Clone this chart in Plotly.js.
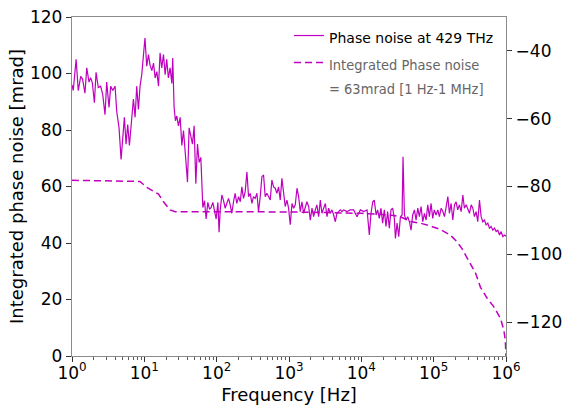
<!DOCTYPE html>
<html>
<head>
<meta charset="utf-8">
<script src="https://cdn.plot.ly/plotly-3.0.1.min.js"></script>
<style>html,body{margin:0;padding:0;background:#fff;}#chart{width:563px;height:405px;}</style>
</head>
<body>
<div id="chart"></div>
<script>
// Phase noise at 429 THz (right axis, dBc/Hz)
var pnFreq = [1,1.04,1.14,1.22,1.32,1.40,1.51,1.60,1.72,1.81,1.91,2.04,2.15,2.31,2.49,2.66,2.86,3.02,3.25,3.43,3.66,3.94,4.15,4.47,4.77,5.03,5.30,5.59,5.89,6.22,6.56,7.06,7.45,7.85,8.28,8.73,9.21,9.71,10.2,10.8,11.4,12.0,12.7,13.4,14.1,14.9,15.7,16.5,17.4,18.4,19.4,20.4,21.5,22.7,24.0,24.7,25.8,26.9,28.1,29.6,31.3,33.0,34.8,36.6,39.5,41.6,43.9,46.3,48.8,51.5,54.3,57.3,60.4,64.4,67.9,71.5,75.5,79.6,83.9,88.5,93.3,98.4,104,108,112,118,124,131,138,146,154,162,171,180,190,201,212,223,235,248,262,276,291,307,323,341,360,379,400,422,445,469,495,522,550,580,612,645,680,717,757,798,841,887,936,987,1040,1100,1160,1220,1290,1360,1430,1510,1590,1680,1770,1870,1970,2080,2190,2310,2430,2570,2710,2850,3010,3180,3350,3530,3720,3930,4140,4370,4600,4860,5120,5400,5690,6330,7040,7830,8710,9690,10800,12000,12900,13600,14400,15100,16000,16800,17700,18700,19700,20800,21900,23100,24400,25700,27100,28600,29600,31200,32900,34700,36600,37700,39400,41500,43800,46200,48700,51300,54200,57100,60300,63500,67000,70600,74500,78600,82800,87300,92100,97100,102000,108000,114000,120000,127000,134000,141000,149000,157000,165000,174000,184000,194000,204000,215000,227000,240000,253000,266000,281000,296000,313000,330000,348000,366000,386000,407000,430000,453000,478000,504000,531000,560000,591000,623000,657000,693000,731000,771000,813000,857000,904000,953000,1000000];
var pnValue = [-50,-51.7,-42.5,-51.7,-47.5,-48.3,-52.5,-45,-49.2,-47.9,-49.4,-55.3,-46.3,-50.8,-50.4,-52.9,-58.8,-49.2,-56.7,-50.4,-51.7,-50.4,-57.8,-62.7,-72,-65.5,-59.6,-67.5,-61.7,-67.9,-62.5,-54.2,-59.6,-50.4,-57.3,-50.4,-47,-41.1,-36.2,-44.5,-41.1,-44.2,-45.8,-43.6,-48,-46.1,-50.4,-40.6,-45,-41.1,-47,-42.5,-48,-45,-49.6,-42.1,-56.7,-60.6,-59.2,-62.1,-59.6,-67.9,-63.5,-69.4,-78.7,-62.7,-65.5,-67.5,-62.1,-79.2,-67.5,-72.9,-71.4,-86.2,-84.2,-89.6,-84.7,-86.7,-86.2,-84.7,-87.1,-89.6,-84.7,-93.5,-86.9,-82.5,-84,-86.4,-85,-83.5,-85.4,-87.9,-84.5,-82,-85,-83,-84.5,-80.1,-83.5,-81.5,-75.7,-83,-82,-85,-83,-83.5,-82,-87.4,-83,-77.1,-76.6,-83,-82,-83,-84,-78.1,-80.1,-80.5,-82,-80.1,-84,-77.6,-82.5,-85.9,-84,-86.4,-91.3,-85,-86.4,-85.4,-80.5,-83,-87.4,-84.5,-87.9,-85.9,-84.5,-85.9,-89.9,-86.4,-88.9,-86.9,-85.4,-88.9,-84,-87.9,-86.4,-85,-88.9,-86.4,-87.9,-86.9,-88.4,-90.4,-87.9,-87.4,-86.9,-87.4,-86.9,-87.4,-86.9,-86.9,-88.9,-86.9,-87.4,-86.9,-94.3,-87.9,-84.5,-84,-88.4,-86.9,-89.4,-86.4,-90.8,-86.9,-91.8,-87.4,-92.3,-86.9,-86.4,-89.4,-95.3,-90.8,-94.8,-88.9,-88.4,-71.2,-88.4,-89.9,-88.9,-90.4,-92.9,-88.4,-86.9,-89.9,-86.4,-88.9,-85.9,-90.4,-87.9,-89.9,-85.4,-88.9,-85,-89.4,-86.9,-88.4,-86.9,-88.9,-86.4,-87.4,-88.9,-85.9,-83,-87.9,-85,-89.9,-85.4,-84.5,-86.9,-85.4,-87.4,-82.5,-86.4,-85.4,-86.9,-87.9,-85.4,-86.4,-88.9,-87.4,-90.4,-84,-88.9,-90.4,-89.9,-91.3,-90.8,-92.3,-91.8,-92.9,-92.3,-93.3,-92.9,-94.3,-93.3,-94.8,-94.3,-94.7];

// Integrated phase noise (left axis, mrad)
var ipnFreq = [1,8.7,10.8,13.3,15.7,18.4,22.7,26.7,100,1000,3160,10000,25100,34700,47900,66100,90200,123000,170000,209000,245000,309000,380000,444000,550000,676000,839000,933000,977000,1000000];
var ipnValue = [62.2,61.8,59.7,58.2,57.3,54.6,51.7,51.1,51.1,51.0,50.8,50.5,49.9,49.3,47.6,47.0,46.0,44.8,42.8,40.5,38.1,33.4,29.3,24.3,20.4,17.5,13.3,9.2,5.7,0];

var xTickVals = [1,10,100,1000,10000,100000,1000000];
var xTickText = ['10<sup>0</sup>','10<sup>1</sup>','10<sup>2</sup>','10<sup>3</sup>','10<sup>4</sup>','10<sup>5</sup>','10<sup>6</sup>'];
var yLeftTicks = [0,20,40,60,80,100,120];
var yRightTicks = [-120,-100,-80,-60,-40];

var magenta = '#bf00bf';
var condStyle = 'font-family:DejaVu Sans Condensed,Liberation Sans Narrow,sans-serif;font-size:14.5px;fill:#666666';

var traces = [
  {
    x: pnFreq, y: pnValue, yaxis: 'y2', type: 'scatter', mode: 'lines',
    line: {color: magenta, width: 1.2},
    name: '<span style="font-size:14px">Phase noise at 429 THz</span>',
    legendgroup: 'a'
  },
  {
    x: ipnFreq, y: ipnValue, yaxis: 'y', type: 'scatter', mode: 'lines',
    line: {color: magenta, width: 1.5, dash: '7px,4px'},
    name: '<span style="' + condStyle + '">Integrated Phase noise</span><br><span style="' + condStyle + '">= 63mrad [1 Hz-1 MHz]</span>',
    legendgroup: 'b'
  }
];

var axisLine = '#8c8c8c';
var layout = {
  width: 563, height: 405,
  margin: {l: 72, r: 57, t: 17, b: 49},
  paper_bgcolor: '#ffffff', plot_bgcolor: '#ffffff',
  font: {family: 'DejaVu Sans, sans-serif', size: 17, color: '#000'},
  showlegend: true,
  legend: {
    x: 0.50, y: 1.0, xanchor: 'left', yanchor: 'top',
    bgcolor: 'rgba(255,255,255,0)', borderwidth: 0,
    font: {family: 'DejaVu Sans, sans-serif', size: 18.5, color: '#000'},
    valign: 'top', tracegroupgap: 0
  },
  xaxis: {
    type: 'log', range: [0, 6],
    tickvals: xTickVals, ticktext: xTickText,
    ticks: 'outside', ticklen: 5, tickwidth: 1, tickcolor: '#333',
    ticklabelstandoff: -4,
    minor: {dtick: 'D1', ticks: 'outside', ticklen: 2.5, tickwidth: 0.8, tickcolor: '#333'},
    showline: true, linecolor: axisLine, linewidth: 1.2, mirror: true,
    showgrid: false, zeroline: false,
    tickfont: {size: 17},
    title: {text: 'Frequency [Hz]', font: {size: 18}, standoff: 7}
  },
  yaxis: {
    range: [0, 120], tickvals: yLeftTicks,
    ticks: 'outside', ticklen: 5, tickwidth: 1, tickcolor: '#333',
    showline: true, linecolor: axisLine, linewidth: 1.2,
    showgrid: false, zeroline: false,
    tickfont: {size: 17},
    title: {text: 'Integrated phase noise [mrad]', font: {size: 18}, standoff: 1}
  },
  yaxis2: {
    overlaying: 'y', side: 'right', range: [-130, -30], tickvals: yRightTicks,
    ticks: 'outside', ticklen: 5, tickwidth: 1, tickcolor: '#333',
    showline: true, linecolor: axisLine, linewidth: 1.2,
    showgrid: false, zeroline: false,
    tickfont: {size: 17}
  }
};

Plotly.newPlot('chart', traces, layout, {displayModeBar: false, staticPlot: true});
</script>
</body>
</html>
